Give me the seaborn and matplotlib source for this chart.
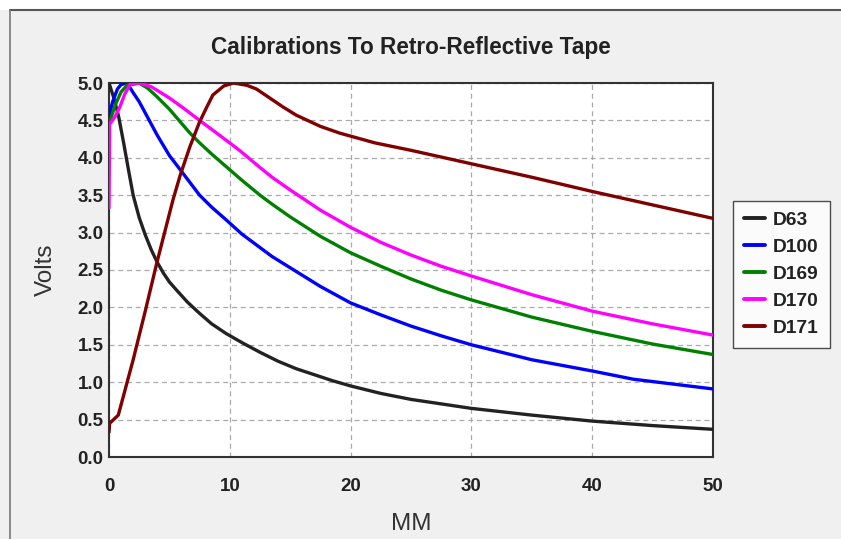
import pandas as pd
import matplotlib
matplotlib.use("Agg")
import matplotlib.pyplot as plt
import seaborn as sns
from matplotlib.lines import Line2D
from matplotlib.patches import Rectangle

# Values (MM, Volts)
d63_mm = [0, 0.4, 0.8, 1.2, 1.6, 2.0, 2.5, 3.0, 3.5, 4.0, 4.5, 5.0, 5.6, 6.5, 7.5, 8.5, 9.7,
          11, 12.5, 14, 15.5, 17, 18.5, 20, 22.5, 25, 27.5, 30, 35, 40, 45, 50]
d63_v = [5.0, 4.8, 4.55, 4.21, 3.85, 3.5, 3.2, 2.97, 2.77, 2.6, 2.46, 2.34, 2.23, 2.07, 1.92, 1.78, 1.65,
         1.53, 1.4, 1.28, 1.18, 1.1, 1.02, 0.95, 0.85, 0.77, 0.71, 0.65, 0.56, 0.48, 0.42, 0.37]

d100_mm = [0, 0.3, 0.7, 1.0, 1.5, 2.0, 2.5, 3.0, 4.0, 5.0, 5.9, 6.7, 7.5, 8.5, 9.7, 11, 12.5,
           13.5, 15, 17.5, 20, 22.5, 25, 27.5, 30, 35, 40, 43.4, 50]
d100_v = [4.55, 4.75, 4.92, 4.98, 5.0, 4.87, 4.75, 4.6, 4.3, 4.03, 3.84, 3.67, 3.5, 3.34, 3.17, 2.98, 2.8,
          2.68, 2.53, 2.28, 2.06, 1.9, 1.75, 1.62, 1.5, 1.3, 1.15, 1.04, 0.91]

d169_mm = [0, 0.5, 1.0, 1.5, 2.5, 3.2, 3.95, 5.0, 6.7, 7.5, 8.5, 10, 11, 12.5, 13.5, 15, 17.5,
           20, 22.5, 25, 27.5, 30, 35, 40, 45, 50]
d169_v = [4.45, 4.7, 4.88, 4.97, 5.0, 4.93, 4.82, 4.65, 4.33, 4.2, 4.05, 3.84, 3.7, 3.5, 3.38, 3.21, 2.95,
          2.73, 2.55, 2.38, 2.23, 2.1, 1.87, 1.68, 1.51, 1.37]

d170_mm = [0, 0.05, 0.5, 0.9, 1.3, 1.74, 2.5, 3.5, 5.0, 6.2, 7.5, 9.0, 10.8, 12.5, 13.5, 15,
           17.5, 20, 22.5, 25, 27.5, 30, 35, 40, 45, 50]
d170_v = [3.33, 4.45, 4.55, 4.68, 4.85, 4.98, 5.0, 4.95, 4.8, 4.66, 4.5, 4.32, 4.1, 3.87, 3.74, 3.57,
          3.3, 3.07, 2.87, 2.7, 2.55, 2.42, 2.17, 1.95, 1.78, 1.63]

d171_mm = [0, 0.05, 0.77, 2.0, 3.0, 3.95, 5.3, 5.9, 6.7, 7.5, 8.1, 8.6, 9.5, 10.3, 11.4, 12.2, 13.3,
           14.4, 15.5, 17.5, 19.1, 22, 25, 30, 35, 40, 45, 50]
d171_v = [0.33, 0.45, 0.56, 1.3, 1.95, 2.59, 3.44, 3.77, 4.15, 4.48, 4.68, 4.84, 4.96, 5.0, 4.97, 4.92, 4.8,
          4.68, 4.57, 4.42, 4.33, 4.2, 4.1, 3.92, 3.74, 3.55, 3.37, 3.19]

sensors = ['D63', 'D100', 'D169', 'D170', 'D171']
colors = ['#222222', '#0000ff', '#008000', '#ff00ff', '#800000']

def to_df():
    parts = []
    for name, mm, v in zip(sensors,
                           [d63_mm, d100_mm, d169_mm, d170_mm, d171_mm],
                           [d63_v, d100_v, d169_v, d170_v, d171_v]):
        parts.append(pd.DataFrame({'MM': mm, 'Volts': v, 'Sensor': name}))
    return pd.concat(parts, ignore_index=True)

df = to_df()

sns.set_style("white")
plt.rcParams['font.family'] = ['Liberation Sans', 'DejaVu Sans']

fig = plt.figure(figsize=(8.41, 5.39), dpi=100, facecolor='#f0f0f0')
# white strip along the top and the frame edge
fig.patches.append(Rectangle((0, 1 - 10 / 539), 1, 10 / 539, transform=fig.transFigure,
                             facecolor='white', edgecolor='none', zorder=0))
fig.lines.append(Line2D([10 / 841, 1], [1 - 10 / 539] * 2, transform=fig.transFigure,
                        color='#555555', lw=1.5))
fig.lines.append(Line2D([10 / 841] * 2, [0, 1 - 10 / 539], transform=fig.transFigure,
                        color='#777777', lw=1.2))

ax = fig.add_axes([109 / 841, 1 - 457 / 539, (713 - 109) / 841, (457 - 83) / 539])
ax.set_facecolor('white')

sns.lineplot(data=df, x='MM', y='Volts', hue='Sensor', palette=dict(zip(sensors, colors)),
             estimator=None, sort=False, linewidth=2.4, ax=ax, legend=False, zorder=3)

ax.set_xlim(0, 50)
ax.set_ylim(0, 5)
ax.set_xticks([0, 10, 20, 30, 40, 50])
ax.set_xticks([5, 15, 25, 35, 45], minor=True)
ax.set_yticks([i * 0.5 for i in range(11)])
ax.set_yticklabels([f'{i * 0.5:.1f}' for i in range(11)])
ax.grid(True, which='major', color='#aaaaaa', linestyle=(0, (4, 3)), linewidth=0.9)
ax.tick_params(axis='x', which='both', direction='in', length=5, color='#333333',
               labelsize=13.5, pad=15)
ax.tick_params(axis='y', which='both', direction='in', length=0, labelsize=13.5, pad=4)
for lbl in ax.get_xticklabels() + ax.get_yticklabels():
    lbl.set_fontweight('bold')
    lbl.set_color('#222222')
for s in ax.spines.values():
    s.set_color('#333333')
    s.set_linewidth(1.5)

ax.set_xlabel('MM', fontsize=17.5, color='#333333', labelpad=13)
ax.set_ylabel('Volts', fontsize=17.5, color='#333333', labelpad=15)
ax.set_title('Calibrations To Retro-Reflective Tape', fontsize=16.3, fontweight='bold',
             color='#222222', pad=21)

handles = [Line2D([0], [0], color=c, lw=2.8) for c in colors]
leg = fig.legend(handles, sensors, loc='upper left',
                 bbox_to_anchor=(733 / 841, 1 - 201 / 539), frameon=True, fancybox=False,
                 prop={'weight': 'bold', 'size': 13.8}, handlelength=1.1, handletextpad=0.45,
                 labelspacing=0.5, borderpad=0.55, borderaxespad=0)
leg.get_frame().set_edgecolor('#222222')
leg.get_frame().set_linewidth(1.0)
leg.get_frame().set_facecolor('white')
for t in leg.get_texts():
    t.set_color('#222222')

fig.savefig('out.png', dpi=100, facecolor=fig.get_facecolor())
